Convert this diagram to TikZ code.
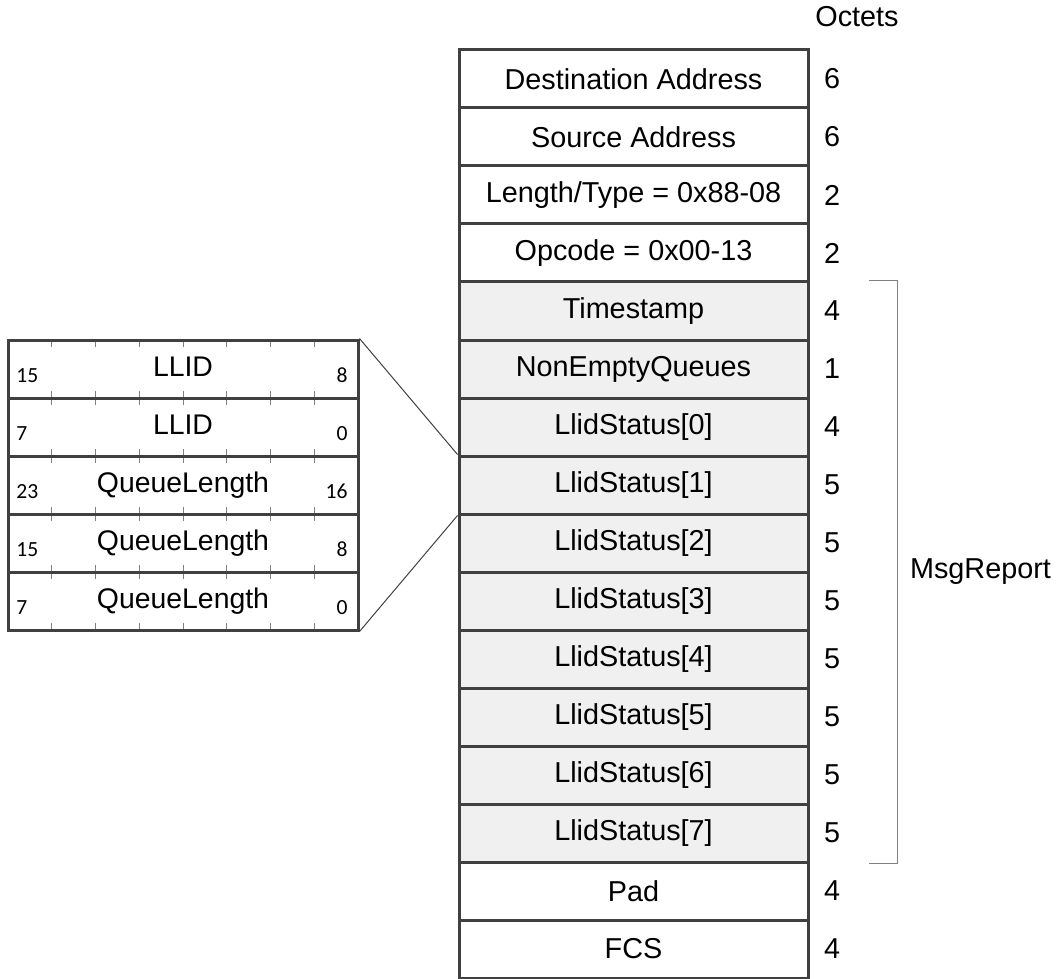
\documentclass[tikz,border=0pt]{standalone}
\usepackage{fontspec}
\setmainfont{Liberation Sans}
\newfontfamily\bitfont{Carlito}
\usetikzlibrary{positioning, calc}
\definecolor{edgegray}{HTML}{404040}
\definecolor{shade}{HTML}{F0F0F0}
\tikzstyle{field} = [rectangle, draw=edgegray, line width=1.5pt, minimum width=174.5pt, minimum height=29pt, inner sep=0pt, font=\fontsize{14.4}{17}\selectfont]
\tikzstyle{msg} = [field, fill=shade]
\tikzstyle{octet} = [inner sep=0pt, font=\fontsize{14.4}{17}\selectfont]
\tikzstyle{bits} = [rectangle, draw=edgegray, line width=1.5pt, minimum width=175pt, minimum height=29pt, inner sep=0pt, text height=10.5pt, text depth=3.5pt, font=\fontsize{14.2}{17}\selectfont]
\tikzstyle{bitno} = [inner sep=0pt, font=\bitfont\fontsize{10.8}{12}\selectfont]
\tikzstyle{tick} = [draw=gray, line width=0.5pt]

\begin{document}
\begin{tikzpicture}[x=0.5pt, y=-0.5pt]
    \useasboundingbox (0, 0) rectangle (1058, 978);
    \node[octet] (octets) at (857, 17) {Octets};
    % frame fields
    \node[field] (da) at (633.5, 79) {Destination Address};
    \node[field] (sa) at (633.5, 137) {Source Address};
    \node[field] (lt) at (633.5, 195) {Length/Type = 0x88-08};
    \node[field] (op) at (633.5, 253) {Opcode = 0x00-13};
    \node[msg] (ts) at (633.5, 311) {Timestamp};
    \node[msg] (neq) at (633.5, 369) {NonEmptyQueues};
    \node[msg] (ls0) at (633.5, 427) {LlidStatus[0]};
    \node[msg] (ls1) at (633.5, 485) {LlidStatus[1]};
    \node[msg] (ls2) at (633.5, 543) {LlidStatus[2]};
    \node[msg] (ls3) at (633.5, 601) {LlidStatus[3]};
    \node[msg] (ls4) at (633.5, 659) {LlidStatus[4]};
    \node[msg] (ls5) at (633.5, 717) {LlidStatus[5]};
    \node[msg] (ls6) at (633.5, 775) {LlidStatus[6]};
    \node[msg] (ls7) at (633.5, 833) {LlidStatus[7]};
    \node[field] (pad) at (633.5, 891) {Pad};
    \node[field] (fcs) at (633.5, 949) {FCS};
    % octet counts
    \node[octet] (nda) at (832, 79) {6};
    \node[octet] (nsa) at (832, 137) {6};
    \node[octet] (nlt) at (832, 195) {2};
    \node[octet] (nop) at (832, 253) {2};
    \node[octet] (nts) at (832, 311) {4};
    \node[octet] (nneq) at (832, 369) {1};
    \node[octet] (nls0) at (832, 427) {4};
    \node[octet] (nls1) at (832, 485) {5};
    \node[octet] (nls2) at (832, 543) {5};
    \node[octet] (nls3) at (832, 601) {5};
    \node[octet] (nls4) at (832, 659) {5};
    \node[octet] (nls5) at (832, 717) {5};
    \node[octet] (nls6) at (832, 775) {5};
    \node[octet] (nls7) at (832, 833) {5};
    \node[octet] (npad) at (832, 891) {4};
    \node[octet] (nfcs) at (832, 949) {4};
    % MsgReport bracket
    \draw[draw=gray, line width=0.5pt] ($(ts.north east)+(59,0)$) -- ++(29,0) |- ($(ls7.south east)+(59,0)$);
    \node[octet] (report) at (980.5, 572) {MsgReport};
    % LlidStatus bits
    \foreach \r in {0,...,4}
      \foreach \j in {1,...,7} {
        \draw[tick] (8+43.75*\j, 340+58*\r) -- ++(0, 7);
        \draw[tick] (8+43.75*\j, 398+58*\r) -- ++(0, -7);
      }
    \node[bits] (b1) at (183, 369) {LLID};
    \node[bits] (b2) at (183, 427) {LLID};
    \node[bits] (b3) at (183, 485) {QueueLength};
    \node[bits] (b4) at (183, 543) {QueueLength};
    \node[bits] (b5) at (183, 601) {QueueLength};
    \node[bitno, anchor=base west] (b1l) at (16, 382) {15};
    \node[bitno, anchor=base east] (b1r) at (348, 382) {8};
    \node[bitno, anchor=base west] (b2l) at (16, 440) {7};
    \node[bitno, anchor=base east] (b2r) at (348, 440) {0};
    \node[bitno, anchor=base west] (b3l) at (16, 498) {23};
    \node[bitno, anchor=base east] (b3r) at (348, 498) {16};
    \node[bitno, anchor=base west] (b4l) at (16, 556) {15};
    \node[bitno, anchor=base east] (b4r) at (348, 556) {8};
    \node[bitno, anchor=base west] (b5l) at (16, 614) {7};
    \node[bitno, anchor=base east] (b5r) at (348, 614) {0};
    \draw[edgegray, line width=0.5pt] (b1.north east) -- (ls1.north west);
    \draw[edgegray, line width=0.5pt] (b5.south east) -- (ls1.south west);
\end{tikzpicture}
\end{document}
